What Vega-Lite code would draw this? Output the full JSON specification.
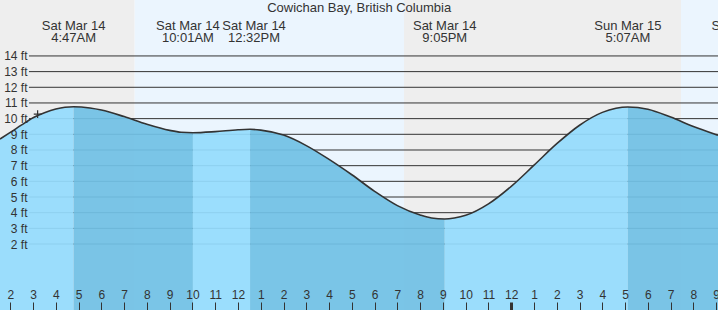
{
  "$schema": "https://vega.github.io/schema/vega-lite/v6.json",
  "width": 718,
  "height": 310,
  "padding": 0,
  "autosize": {"type": "none"},
  "background": "#ffffff",
  "config": {"view": {"stroke": null}, "text": {"font": "Liberation Sans"}, "axis": {"labelOverlap": false, "labelFlush": false, "title": null, "grid": false, "domain": false}},
  "datasets": {
    "bands": [
      {"start": 1.548, "end": 7.463, "kind": "night"},
      {"start": 7.463, "end": 19.29, "kind": "day"},
      {"start": 19.29, "end": 31.455, "kind": "night"},
      {"start": 31.455, "end": 33.08, "kind": "day"}
    ],
    "grid": [{"ft": 2}, {"ft": 3}, {"ft": 4}, {"ft": 5}, {"ft": 6}, {"ft": 7}, {"ft": 8}, {"ft": 9}, {"ft": 10}, {"ft": 11}, {"ft": 12}, {"ft": 13}, {"ft": 14}],
    "tide": [
      {"h": 1.548, "ft": 8.7, "seg": 1, "phase": "rise", "dup": 0},
      {"h": 2, "ft": 9.12, "seg": 1, "phase": "rise", "dup": 0},
      {"h": 2.5, "ft": 9.6, "seg": 1, "phase": "rise", "dup": 0},
      {"h": 3, "ft": 10.06, "seg": 1, "phase": "rise", "dup": 0},
      {"h": 3.5, "ft": 10.38, "seg": 1, "phase": "rise", "dup": 0},
      {"h": 4, "ft": 10.62, "seg": 1, "phase": "rise", "dup": 0},
      {"h": 4.4, "ft": 10.73, "seg": 1, "phase": "rise", "dup": 0},
      {"h": 4.78, "ft": 10.76, "seg": 1, "phase": "rise", "dup": 0},
      {"h": 4.78, "ft": 10.76, "seg": 2, "phase": "fall", "dup": 1},
      {"h": 5.5, "ft": 10.68, "seg": 2, "phase": "fall", "dup": 0},
      {"h": 6, "ft": 10.55, "seg": 2, "phase": "fall", "dup": 0},
      {"h": 7, "ft": 10.13, "seg": 2, "phase": "fall", "dup": 0},
      {"h": 8, "ft": 9.64, "seg": 2, "phase": "fall", "dup": 0},
      {"h": 9, "ft": 9.25, "seg": 2, "phase": "fall", "dup": 0},
      {"h": 9.5, "ft": 9.13, "seg": 2, "phase": "fall", "dup": 0},
      {"h": 10.02, "ft": 9.1, "seg": 2, "phase": "fall", "dup": 0},
      {"h": 10.02, "ft": 9.1, "seg": 3, "phase": "rise", "dup": 1},
      {"h": 11, "ft": 9.17, "seg": 3, "phase": "rise", "dup": 0},
      {"h": 12, "ft": 9.29, "seg": 3, "phase": "rise", "dup": 0},
      {"h": 12.53, "ft": 9.32, "seg": 3, "phase": "rise", "dup": 0},
      {"h": 12.53, "ft": 9.32, "seg": 4, "phase": "fall", "dup": 1},
      {"h": 13, "ft": 9.27, "seg": 4, "phase": "fall", "dup": 0},
      {"h": 14, "ft": 8.95, "seg": 4, "phase": "fall", "dup": 0},
      {"h": 15, "ft": 8.28, "seg": 4, "phase": "fall", "dup": 0},
      {"h": 16, "ft": 7.4, "seg": 4, "phase": "fall", "dup": 0},
      {"h": 17, "ft": 6.42, "seg": 4, "phase": "fall", "dup": 0},
      {"h": 18, "ft": 5.36, "seg": 4, "phase": "fall", "dup": 0},
      {"h": 19, "ft": 4.45, "seg": 4, "phase": "fall", "dup": 0},
      {"h": 20, "ft": 3.85, "seg": 4, "phase": "fall", "dup": 0},
      {"h": 20.5, "ft": 3.66, "seg": 4, "phase": "fall", "dup": 0},
      {"h": 21.08, "ft": 3.6, "seg": 4, "phase": "fall", "dup": 0},
      {"h": 21.08, "ft": 3.6, "seg": 5, "phase": "rise", "dup": 1},
      {"h": 21.5, "ft": 3.66, "seg": 5, "phase": "rise", "dup": 0},
      {"h": 22, "ft": 3.83, "seg": 5, "phase": "rise", "dup": 0},
      {"h": 23, "ft": 4.56, "seg": 5, "phase": "rise", "dup": 0},
      {"h": 24, "ft": 5.68, "seg": 5, "phase": "rise", "dup": 0},
      {"h": 25, "ft": 7.03, "seg": 5, "phase": "rise", "dup": 0},
      {"h": 26, "ft": 8.4, "seg": 5, "phase": "rise", "dup": 0},
      {"h": 27, "ft": 9.58, "seg": 5, "phase": "rise", "dup": 0},
      {"h": 28, "ft": 10.4, "seg": 5, "phase": "rise", "dup": 0},
      {"h": 28.6, "ft": 10.66, "seg": 5, "phase": "rise", "dup": 0},
      {"h": 29.12, "ft": 10.74, "seg": 5, "phase": "rise", "dup": 0},
      {"h": 29.12, "ft": 10.74, "seg": 6, "phase": "fall", "dup": 1},
      {"h": 30, "ft": 10.6, "seg": 6, "phase": "fall", "dup": 0},
      {"h": 31, "ft": 10.1, "seg": 6, "phase": "fall", "dup": 0},
      {"h": 32, "ft": 9.5, "seg": 6, "phase": "fall", "dup": 0},
      {"h": 33, "ft": 8.98, "seg": 6, "phase": "fall", "dup": 0},
      {"h": 33.08, "ft": 8.94, "seg": 6, "phase": "fall", "dup": 0}
    ],
    "events": [
      {"h": 4.78, "lines": ["Sat Mar 14", "4:47AM"], "side": "mid"},
      {"h": 10.02, "lines": ["Sat Mar 14", "10:01AM"], "side": "left"},
      {"h": 12.53, "lines": ["Sat Mar 14", "12:32PM"], "side": "right"},
      {"h": 21.08, "lines": ["Sat Mar 14", "9:05PM"], "side": "mid"},
      {"h": 29.12, "lines": ["Sun Mar 15", "5:07AM"], "side": "mid"},
      {"h": 34.27, "lines": ["Sun Mar 15", "10:16AM"], "side": "mid"}
    ],
    "marker": [{"h": 3.2, "ft": 10.29}],
    "heading": [{"h": 17.32, "name": "Cowichan Bay, British Columbia"}]
  },
  "layer": [
    {
      "data": {"name": "bands"},
      "mark": {"type": "rect"},
      "encoding": {
        "x": {"field": "start", "type": "quantitative", "scale": {"domain": [1.548, 33.08], "nice": false, "zero": false},
          "axis": {"orient": "bottom", "title": null, "offset": -8, "values": [2, 3, 4, 5, 6, 7, 8, 9, 10, 11, 12, 13, 14, 15, 16, 17, 18, 19, 20, 21, 22, 23, 24, 25, 26, 27, 28, 29, 30, 31, 32, 33], "labelExpr": "(datum.value % 12) == 0 ? '12' : '' + (datum.value % 12)", "tickSize": 8, "tickColor": "#333333", "tickWidth": {"condition": {"test": "datum.value == 24", "value": 3}, "value": 1}, "domain": false, "grid": false, "labelPadding": -21, "labelFont": "Liberation Sans", "labelFontSize": 12, "labelColor": "#333333", "labelFlush": false, "labelOverlap": false, "zindex": 1}},
        "x2": {"field": "end"},
        "color": {"field": "kind", "type": "nominal", "scale": {"domain": ["night", "day", "rise", "fall"], "range": ["#eeeeee", "#ebf5fe", "#94dbfd", "#71c1e5"]}, "legend": null}
      }
    },
    {
      "data": {"name": "grid"},
      "mark": {"type": "rule", "color": "#333333", "strokeWidth": 1},
      "encoding": {
        "y": {"field": "ft", "type": "quantitative", "scale": {"domain": [-2.21, 17.57], "nice": false, "zero": false},
          "axis": {"orient": "left", "title": null, "offset": -29, "values": [2, 3, 4, 5, 6, 7, 8, 9, 10, 11, 12, 13, 14], "labelExpr": "datum.value + ' ft'", "ticks": false, "domain": false, "grid": false, "labelPadding": 2, "labelFont": "Liberation Sans", "labelFontSize": 12, "labelColor": "#333333", "labelOverlap": false, "labelFlush": false, "zindex": 1}},
        "x": {"datum": 2.82, "type": "quantitative", "scale": {"domain": [1.548, 33.08], "nice": false, "zero": false},
          "axis": {"orient": "bottom", "title": null, "offset": -8, "values": [2, 3, 4, 5, 6, 7, 8, 9, 10, 11, 12, 13, 14, 15, 16, 17, 18, 19, 20, 21, 22, 23, 24, 25, 26, 27, 28, 29, 30, 31, 32, 33], "labelExpr": "(datum.value % 12) == 0 ? '12' : '' + (datum.value % 12)", "tickSize": 8, "tickColor": "#333333", "tickWidth": {"condition": {"test": "datum.value == 24", "value": 3}, "value": 1}, "domain": false, "grid": false, "labelPadding": -21, "labelFont": "Liberation Sans", "labelFontSize": 12, "labelColor": "#333333", "labelFlush": false, "labelOverlap": false, "zindex": 1}},
        "x2": {"datum": 33.08}
      }
    },
    {
      "data": {"name": "tide"},
      "mark": {"type": "area", "interpolate": "monotone", "opacity": 0.93},
      "encoding": {
        "x": {"field": "h", "type": "quantitative", "scale": {"domain": [1.548, 33.08], "nice": false, "zero": false},
          "axis": {"orient": "bottom", "title": null, "offset": -8, "values": [2, 3, 4, 5, 6, 7, 8, 9, 10, 11, 12, 13, 14, 15, 16, 17, 18, 19, 20, 21, 22, 23, 24, 25, 26, 27, 28, 29, 30, 31, 32, 33], "labelExpr": "(datum.value % 12) == 0 ? '12' : '' + (datum.value % 12)", "tickSize": 8, "tickColor": "#333333", "tickWidth": {"condition": {"test": "datum.value == 24", "value": 3}, "value": 1}, "domain": false, "grid": false, "labelPadding": -21, "labelFont": "Liberation Sans", "labelFontSize": 12, "labelColor": "#333333", "labelFlush": false, "labelOverlap": false, "zindex": 1}},
        "y": {"field": "ft", "type": "quantitative", "stack": null, "scale": {"domain": [-2.21, 17.57], "nice": false, "zero": false},
          "axis": {"orient": "left", "title": null, "offset": -29, "values": [2, 3, 4, 5, 6, 7, 8, 9, 10, 11, 12, 13, 14], "labelExpr": "datum.value + ' ft'", "ticks": false, "domain": false, "grid": false, "labelPadding": 2, "labelFont": "Liberation Sans", "labelFontSize": 12, "labelColor": "#333333", "labelOverlap": false, "labelFlush": false, "zindex": 1}},
        "y2": {"datum": -2.21},
        "color": {"field": "phase", "type": "nominal", "legend": null},
        "detail": {"field": "seg", "type": "nominal"}
      }
    },
    {
      "data": {"name": "tide"},
      "transform": [{"filter": "datum.dup == 0"}],
      "mark": {"type": "line", "interpolate": "monotone", "color": "#333333", "strokeWidth": 1.6},
      "encoding": {
        "x": {"field": "h", "type": "quantitative", "scale": {"domain": [1.548, 33.08], "nice": false, "zero": false},
          "axis": {"orient": "bottom", "title": null, "offset": -8, "values": [2, 3, 4, 5, 6, 7, 8, 9, 10, 11, 12, 13, 14, 15, 16, 17, 18, 19, 20, 21, 22, 23, 24, 25, 26, 27, 28, 29, 30, 31, 32, 33], "labelExpr": "(datum.value % 12) == 0 ? '12' : '' + (datum.value % 12)", "tickSize": 8, "tickColor": "#333333", "tickWidth": {"condition": {"test": "datum.value == 24", "value": 3}, "value": 1}, "domain": false, "grid": false, "labelPadding": -21, "labelFont": "Liberation Sans", "labelFontSize": 12, "labelColor": "#333333", "labelFlush": false, "labelOverlap": false, "zindex": 1}},
        "y": {"field": "ft", "type": "quantitative", "scale": {"domain": [-2.21, 17.57], "nice": false, "zero": false},
          "axis": {"orient": "left", "title": null, "offset": -29, "values": [2, 3, 4, 5, 6, 7, 8, 9, 10, 11, 12, 13, 14], "labelExpr": "datum.value + ' ft'", "ticks": false, "domain": false, "grid": false, "labelPadding": 2, "labelFont": "Liberation Sans", "labelFontSize": 12, "labelColor": "#333333", "labelOverlap": false, "labelFlush": false, "zindex": 1}}
      }
    },
    {
      "data": {"name": "marker"},
      "mark": {"type": "point", "shape": "M-1,0L1,0M0,-1L0,1", "filled": false, "size": 60, "stroke": "#333333", "strokeWidth": 1.2, "opacity": 1},
      "encoding": {
        "x": {"field": "h", "type": "quantitative", "scale": {"domain": [1.548, 33.08], "nice": false, "zero": false},
          "axis": {"orient": "bottom", "title": null, "offset": -8, "values": [2, 3, 4, 5, 6, 7, 8, 9, 10, 11, 12, 13, 14, 15, 16, 17, 18, 19, 20, 21, 22, 23, 24, 25, 26, 27, 28, 29, 30, 31, 32, 33], "labelExpr": "(datum.value % 12) == 0 ? '12' : '' + (datum.value % 12)", "tickSize": 8, "tickColor": "#333333", "tickWidth": {"condition": {"test": "datum.value == 24", "value": 3}, "value": 1}, "domain": false, "grid": false, "labelPadding": -21, "labelFont": "Liberation Sans", "labelFontSize": 12, "labelColor": "#333333", "labelFlush": false, "labelOverlap": false, "zindex": 1}},
        "y": {"field": "ft", "type": "quantitative", "scale": {"domain": [-2.21, 17.57], "nice": false, "zero": false},
          "axis": {"orient": "left", "title": null, "offset": -29, "values": [2, 3, 4, 5, 6, 7, 8, 9, 10, 11, 12, 13, 14], "labelExpr": "datum.value + ' ft'", "ticks": false, "domain": false, "grid": false, "labelPadding": 2, "labelFont": "Liberation Sans", "labelFontSize": 12, "labelColor": "#333333", "labelOverlap": false, "labelFlush": false, "zindex": 1}}
      }
    },
    {
      "data": {"name": "events"},
      "transform": [{"filter": "datum.side == 'mid'"}],
      "mark": {"type": "text", "font": "Liberation Sans", "fontSize": 13, "lineHeight": 12, "color": "#333333", "baseline": "middle", "align": "center"},
      "encoding": {
        "x": {"field": "h", "type": "quantitative", "scale": {"domain": [1.548, 33.08], "nice": false, "zero": false},
          "axis": {"orient": "bottom", "title": null, "offset": -8, "values": [2, 3, 4, 5, 6, 7, 8, 9, 10, 11, 12, 13, 14, 15, 16, 17, 18, 19, 20, 21, 22, 23, 24, 25, 26, 27, 28, 29, 30, 31, 32, 33], "labelExpr": "(datum.value % 12) == 0 ? '12' : '' + (datum.value % 12)", "tickSize": 8, "tickColor": "#333333", "tickWidth": {"condition": {"test": "datum.value == 24", "value": 3}, "value": 1}, "domain": false, "grid": false, "labelPadding": -21, "labelFont": "Liberation Sans", "labelFontSize": 12, "labelColor": "#333333", "labelFlush": false, "labelOverlap": false, "zindex": 1}},
        "y": {"datum": 15.91, "type": "quantitative", "scale": {"domain": [-2.21, 17.57], "nice": false, "zero": false},
          "axis": {"orient": "left", "title": null, "offset": -29, "values": [2, 3, 4, 5, 6, 7, 8, 9, 10, 11, 12, 13, 14], "labelExpr": "datum.value + ' ft'", "ticks": false, "domain": false, "grid": false, "labelPadding": 2, "labelFont": "Liberation Sans", "labelFontSize": 12, "labelColor": "#333333", "labelOverlap": false, "labelFlush": false, "zindex": 1}},
        "text": {"field": "lines"}
      }
    },
    {
      "data": {"name": "events"},
      "transform": [{"filter": "datum.side == 'left'"}],
      "mark": {"type": "text", "font": "Liberation Sans", "fontSize": 13, "lineHeight": 12, "color": "#333333", "baseline": "middle", "align": "center", "dx": -5},
      "encoding": {
        "x": {"field": "h", "type": "quantitative", "scale": {"domain": [1.548, 33.08], "nice": false, "zero": false},
          "axis": {"orient": "bottom", "title": null, "offset": -8, "values": [2, 3, 4, 5, 6, 7, 8, 9, 10, 11, 12, 13, 14, 15, 16, 17, 18, 19, 20, 21, 22, 23, 24, 25, 26, 27, 28, 29, 30, 31, 32, 33], "labelExpr": "(datum.value % 12) == 0 ? '12' : '' + (datum.value % 12)", "tickSize": 8, "tickColor": "#333333", "tickWidth": {"condition": {"test": "datum.value == 24", "value": 3}, "value": 1}, "domain": false, "grid": false, "labelPadding": -21, "labelFont": "Liberation Sans", "labelFontSize": 12, "labelColor": "#333333", "labelFlush": false, "labelOverlap": false, "zindex": 1}},
        "y": {"datum": 15.91, "type": "quantitative", "scale": {"domain": [-2.21, 17.57], "nice": false, "zero": false},
          "axis": {"orient": "left", "title": null, "offset": -29, "values": [2, 3, 4, 5, 6, 7, 8, 9, 10, 11, 12, 13, 14], "labelExpr": "datum.value + ' ft'", "ticks": false, "domain": false, "grid": false, "labelPadding": 2, "labelFont": "Liberation Sans", "labelFontSize": 12, "labelColor": "#333333", "labelOverlap": false, "labelFlush": false, "zindex": 1}},
        "text": {"field": "lines"}
      }
    },
    {
      "data": {"name": "events"},
      "transform": [{"filter": "datum.side == 'right'"}],
      "mark": {"type": "text", "font": "Liberation Sans", "fontSize": 13, "lineHeight": 12, "color": "#333333", "baseline": "middle", "align": "center", "dx": 4},
      "encoding": {
        "x": {"field": "h", "type": "quantitative", "scale": {"domain": [1.548, 33.08], "nice": false, "zero": false},
          "axis": {"orient": "bottom", "title": null, "offset": -8, "values": [2, 3, 4, 5, 6, 7, 8, 9, 10, 11, 12, 13, 14, 15, 16, 17, 18, 19, 20, 21, 22, 23, 24, 25, 26, 27, 28, 29, 30, 31, 32, 33], "labelExpr": "(datum.value % 12) == 0 ? '12' : '' + (datum.value % 12)", "tickSize": 8, "tickColor": "#333333", "tickWidth": {"condition": {"test": "datum.value == 24", "value": 3}, "value": 1}, "domain": false, "grid": false, "labelPadding": -21, "labelFont": "Liberation Sans", "labelFontSize": 12, "labelColor": "#333333", "labelFlush": false, "labelOverlap": false, "zindex": 1}},
        "y": {"datum": 15.91, "type": "quantitative", "scale": {"domain": [-2.21, 17.57], "nice": false, "zero": false},
          "axis": {"orient": "left", "title": null, "offset": -29, "values": [2, 3, 4, 5, 6, 7, 8, 9, 10, 11, 12, 13, 14], "labelExpr": "datum.value + ' ft'", "ticks": false, "domain": false, "grid": false, "labelPadding": 2, "labelFont": "Liberation Sans", "labelFontSize": 12, "labelColor": "#333333", "labelOverlap": false, "labelFlush": false, "zindex": 1}},
        "text": {"field": "lines"}
      }
    },
    {
      "data": {"name": "heading"},
      "mark": {"type": "text", "font": "Liberation Sans", "fontSize": 13, "color": "#333333", "baseline": "middle", "align": "center"},
      "encoding": {
        "x": {"field": "h", "type": "quantitative", "scale": {"domain": [1.548, 33.08], "nice": false, "zero": false},
          "axis": {"orient": "bottom", "title": null, "offset": -8, "values": [2, 3, 4, 5, 6, 7, 8, 9, 10, 11, 12, 13, 14, 15, 16, 17, 18, 19, 20, 21, 22, 23, 24, 25, 26, 27, 28, 29, 30, 31, 32, 33], "labelExpr": "(datum.value % 12) == 0 ? '12' : '' + (datum.value % 12)", "tickSize": 8, "tickColor": "#333333", "tickWidth": {"condition": {"test": "datum.value == 24", "value": 3}, "value": 1}, "domain": false, "grid": false, "labelPadding": -21, "labelFont": "Liberation Sans", "labelFontSize": 12, "labelColor": "#333333", "labelFlush": false, "labelOverlap": false, "zindex": 1}},
        "y": {"datum": 17.09, "type": "quantitative", "scale": {"domain": [-2.21, 17.57], "nice": false, "zero": false},
          "axis": {"orient": "left", "title": null, "offset": -29, "values": [2, 3, 4, 5, 6, 7, 8, 9, 10, 11, 12, 13, 14], "labelExpr": "datum.value + ' ft'", "ticks": false, "domain": false, "grid": false, "labelPadding": 2, "labelFont": "Liberation Sans", "labelFontSize": 12, "labelColor": "#333333", "labelOverlap": false, "labelFlush": false, "zindex": 1}},
        "text": {"field": "name"}
      }
    }
  ]
}
